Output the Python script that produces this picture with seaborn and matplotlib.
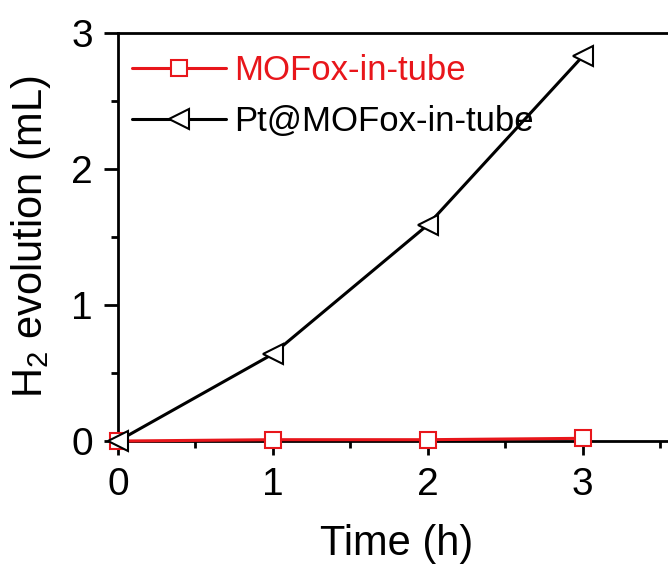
import matplotlib; matplotlib.use("Agg")
import matplotlib.pyplot as plt
from matplotlib.ticker import MultipleLocator
import seaborn as sns

# data
time_h = [0, 1, 2, 3]
mofox = [0.0, 0.01, 0.01, 0.02]
pt_mofox = [0.0, 0.64, 1.59, 2.83]
labels = ["MOFox-in-tube", "Pt@MOFox-in-tube"]
label_colors = ["#e8161b", "black"]

sns.set_theme(style="ticks")
plt.rcParams.update({
    "font.family": ["Liberation Sans", "DejaVu Sans"],
    "mathtext.fontset": "custom",
    "mathtext.rm": "Liberation Sans",
    "mathtext.it": "Liberation Sans:italic",
    "text.color": "black",
    "axes.labelcolor": "black",
    "xtick.color": "black",
    "ytick.color": "black",
})

fig = plt.figure(figsize=(6.68, 5.64), dpi=100)
ax = fig.add_axes([0.1766, 0.218, 0.835, 0.7234])

sns.lineplot(x=time_h, y=mofox, ax=ax, color=label_colors[0], linewidth=2.2,
             marker="s", markersize=11, markerfacecolor="white",
             markeredgecolor=label_colors[0], markeredgewidth=1.5,
             label=labels[0], clip_on=False, zorder=3)
sns.lineplot(x=time_h, y=pt_mofox, ax=ax, color="black", linewidth=2.2,
             marker="<", markersize=14.5, markerfacecolor="white",
             markeredgecolor="black", markeredgewidth=1.5,
             label=labels[1], clip_on=False, zorder=4)

ax.set_xlim(0, 3.6)
ax.set_ylim(0, 3)
ax.xaxis.set_major_locator(MultipleLocator(1))
ax.xaxis.set_minor_locator(MultipleLocator(0.5))
ax.yaxis.set_major_locator(MultipleLocator(1))
ax.yaxis.set_minor_locator(MultipleLocator(0.5))
ax.tick_params(which="major", direction="out", length=10, width=2, labelsize=28)
ax.tick_params(axis="x", which="major", pad=9)
ax.tick_params(axis="y", which="major", pad=8)
ax.tick_params(which="minor", direction="out", length=5, width=2)
for s in ax.spines.values():
    s.set_linewidth(2)
    s.set_color("black")
    s.set_visible(True)

ax.set_xlabel("Time (h)", fontsize=30, labelpad=15)
ax.set_ylabel("H$_2$ evolution (mL)", fontsize=30, labelpad=13)

leg = ax.legend(loc="upper left", frameon=False, fontsize=25, handlelength=2.7,
                handletextpad=0.25, labelspacing=0.53, borderaxespad=0.0,
                bbox_to_anchor=(0.0, 0.983))
for txt, col in zip(leg.get_texts(), label_colors):
    txt.set_color(col)

fig.savefig("out.png", dpi=100)
